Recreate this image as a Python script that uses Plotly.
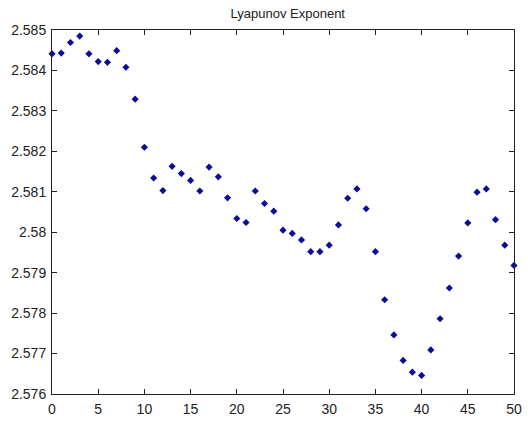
import plotly.graph_objects as go

# Iteration index and the estimated Lyapunov exponent at each step
steps = list(range(51))
lyapunov = [
    2.58441, 2.58443, 2.58469, 2.58485, 2.58441, 2.58422, 2.58420, 2.58449, 2.58408, 2.58329,
    2.58210, 2.58134, 2.58103, 2.58163, 2.58145, 2.58128, 2.58102, 2.58161, 2.58137, 2.58085,
    2.58034, 2.58024, 2.58102, 2.58071, 2.58052, 2.58005, 2.57997, 2.57981, 2.57952, 2.57952,
    2.57968, 2.58018, 2.58084, 2.58107, 2.58058, 2.57952, 2.57833, 2.57746, 2.57683, 2.57654,
    2.57646, 2.57709, 2.57786, 2.57862, 2.57941, 2.58023, 2.58099, 2.58107, 2.58031, 2.57968,
    2.57918,
]

x_ticks = [0, 5, 10, 15, 20, 25, 30, 35, 40, 45, 50]
y_ticks = [2.576, 2.577, 2.578, 2.579, 2.58, 2.581, 2.582, 2.583, 2.584, 2.585]
y_tick_text = ["2.576", "2.577", "2.578", "2.579", "2.58", "2.581", "2.582", "2.583", "2.584", "2.585"]

fig = go.Figure(
    go.Scatter(
        x=steps,
        y=lyapunov,
        mode="markers",
        marker=dict(symbol="diamond", size=5.5, color="#0c0c98", line=dict(width=0)),
        cliponaxis=False,
        showlegend=False,
    )
)

axis_common = dict(
    showgrid=False,
    zeroline=False,
    showline=True,
    linecolor="#202020",
    linewidth=1,
    mirror="ticks",
    ticks="inside",
    ticklen=5,
    tickcolor="#202020",
    ticklabeloverflow="allow",
    tickfont=dict(family="Liberation Sans, Arial, sans-serif", size=14, color="#222222"),
)

fig.update_xaxes(
    range=[0, 50],
    tickvals=x_ticks,
    ticktext=[str(t) for t in x_ticks],
    ticklabelstandoff=2,
    **axis_common,
)
fig.update_yaxes(
    range=[2.576, 2.585],
    tickvals=y_ticks,
    ticktext=y_tick_text,
    ticklabelstandoff=2,
    **axis_common,
)

fig.update_layout(
    width=528,
    height=423,
    margin=dict(l=52, r=6, t=30, b=24),
    paper_bgcolor="white",
    plot_bgcolor="white",
    title=dict(
        text="Lyapunov Exponent",
        x=0.545,
        xanchor="center",
        y=0.968,
        yanchor="middle",
        font=dict(family="Liberation Sans, Arial, sans-serif", size=13, color="#222222"),
    ),
)

fig.write_html("out.html")
